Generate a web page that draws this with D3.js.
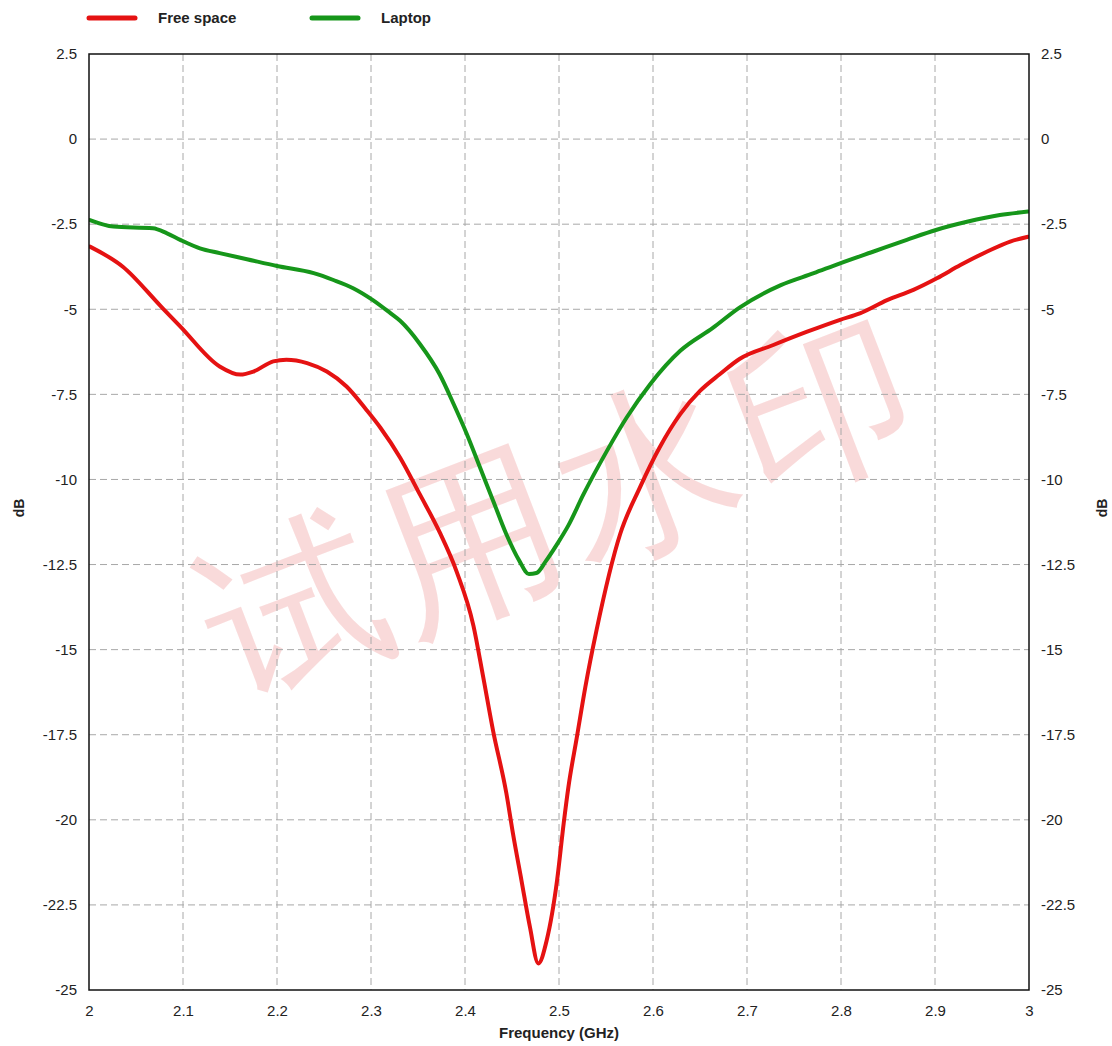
<!DOCTYPE html>
<html><head><meta charset="utf-8">
<script src="https://cdn.jsdelivr.net/npm/d3@7"></script>
<style>body{margin:0;background:#fff}svg{display:block}text{font-family:"Liberation Sans",Arial,sans-serif}</style>
</head><body><svg id="c" width="1112" height="1046"></svg>
<script>
const seriesNames = ["Free space", "Laptop"];
const seriesColors = ["#e51212", "#16961a"];
const freeFreq = [2.001,2.036,2.076,2.097,2.139,2.161,2.175,2.196,2.210,2.232,2.253,2.274,2.295,2.310,2.331,2.352,2.373,2.391,2.409,2.419,2.430,2.444,2.451,2.460,2.469,2.478,2.487,2.498,2.505,2.510,2.519,2.528,2.540,2.565,2.586,2.607,2.629,2.650,2.671,2.692,2.728,2.764,2.799,2.820,2.849,2.877,2.902,2.927,2.955,2.980,2.999];
const freeDb =   [-3.16,-3.75,-4.9,-5.5,-6.68,-6.92,-6.83,-6.53,-6.48,-6.58,-6.83,-7.27,-7.95,-8.48,-9.36,-10.44,-11.55,-12.7,-14.3,-15.75,-17.4,-19.22,-20.4,-21.77,-23.14,-24.22,-23.53,-21.77,-20.1,-19.04,-17.57,-16.1,-14.42,-11.61,-10.24,-9.06,-8.08,-7.4,-6.91,-6.46,-6.05,-5.66,-5.31,-5.12,-4.73,-4.43,-4.09,-3.7,-3.31,-3.01,-2.87];
const laptopFreq = [2.001,2.026,2.068,2.083,2.097,2.118,2.139,2.168,2.200,2.239,2.260,2.281,2.302,2.320,2.331,2.352,2.373,2.388,2.402,2.416,2.430,2.444,2.458,2.468,2.476,2.486,2.498,2.510,2.526,2.551,2.572,2.597,2.629,2.664,2.692,2.736,2.771,2.799,2.834,2.870,2.901,2.934,2.969,2.999];
const laptopDb =   [-2.38,-2.57,-2.62,-2.77,-2.96,-3.21,-3.35,-3.53,-3.73,-3.94,-4.14,-4.38,-4.73,-5.1,-5.34,-6.02,-6.91,-7.79,-8.67,-9.65,-10.63,-11.61,-12.4,-12.78,-12.75,-12.4,-11.9,-11.35,-10.44,-9.16,-8.18,-7.2,-6.22,-5.54,-4.95,-4.29,-3.94,-3.65,-3.31,-2.96,-2.67,-2.43,-2.23,-2.13];
const xTicks = [2,2.1,2.2,2.3,2.4,2.5,2.6,2.7,2.8,2.9,3];
const yTicks = [2.5,0,-2.5,-5,-7.5,-10,-12.5,-15,-17.5,-20,-22.5,-25];
const xTitle = "Frequency (GHz)";
const yTitle = "dB";
const watermark = "试用水印";

const svg = d3.select("#c");
const L = 89, R = 1029, T = 54, B = 990;
const x = d3.scaleLinear().domain([2,3]).range([L,R]);
const y = d3.scaleLinear().domain([-25,2.5]).range([B,T]);

// watermark
svg.append("text").attr("transform","translate(562,505) rotate(-21)")
  .attr("text-anchor","middle").attr("dominant-baseline","central")
  .attr("font-size",180).attr("font-family","Noto Sans CJK SC")
  .attr("fill","#f7cccc").attr("fill-opacity",0.72).attr("letter-spacing",8).text(watermark);

// grid
const g = svg.append("g");
g.selectAll(".vx").data(xTicks.slice(1,-1)).join("line")
  .attr("x1",d=>x(d)).attr("x2",d=>x(d)).attr("y1",T).attr("y2",B)
  .attr("stroke","#a8a8a8").attr("stroke-dasharray","7,4").attr("stroke-width",1);
g.selectAll(".hy").data(yTicks.slice(1,-1)).join("line")
  .attr("x1",L).attr("x2",R).attr("y1",d=>y(d)).attr("y2",d=>y(d))
  .attr("stroke","#a8a8a8").attr("stroke-dasharray","7,4").attr("stroke-width",1);

// axes labels via d3 axes
const fmt = d=>String(d);
const ax = svg.append("g").attr("transform",`translate(0,${B})`)
  .call(d3.axisBottom(x).tickValues(xTicks).tickFormat(fmt).tickSize(0).tickPadding(15));
const ayl = svg.append("g").attr("transform",`translate(${L},0)`)
  .call(d3.axisLeft(y).tickValues(yTicks).tickFormat(fmt).tickSize(0).tickPadding(12));
const ayr = svg.append("g").attr("transform",`translate(${R},0)`)
  .call(d3.axisRight(y).tickValues(yTicks).tickFormat(fmt).tickSize(0).tickPadding(12));
[ax,ayl,ayr].forEach(a=>{a.select(".domain").remove();a.selectAll("text").attr("font-size",15).attr("fill","#222").attr("font-family","Liberation Sans, Arial, sans-serif");});

// lines
const line = d3.line().x(d=>x(d[0])).y(d=>y(d[1])).curve(d3.curveMonotoneX);
const data = [d3.zip(freeFreq,freeDb), d3.zip(laptopFreq,laptopDb)];
svg.append("defs").append("clipPath").attr("id","cp").append("rect").attr("x",L).attr("y",T).attr("width",R-L).attr("height",B-T);
svg.append("g").attr("clip-path","url(#cp)").selectAll("path").data(data).join("path")
  .attr("d",line).attr("fill","none").attr("stroke",(d,i)=>seriesColors[i]).attr("stroke-width",4)
  .attr("stroke-linejoin","round").attr("stroke-linecap","round");

// frame
svg.append("rect").attr("x",L).attr("y",T).attr("width",R-L).attr("height",B-T)
  .attr("fill","none").attr("stroke","#111").attr("stroke-width",1.5);

// titles
svg.append("text").attr("x",(L+R)/2).attr("y",1038).attr("text-anchor","middle")
  .attr("font-size",15).attr("font-weight","bold").attr("fill","#222").text(xTitle);
svg.append("text").attr("transform","translate(24,508) rotate(-90)").attr("text-anchor","middle")
  .attr("font-size",14).attr("font-weight","bold").attr("fill","#222").text(yTitle);
svg.append("text").attr("transform","translate(1107,508) rotate(-90)").attr("text-anchor","middle")
  .attr("font-size",14).attr("font-weight","bold").attr("fill","#222").text(yTitle);

// legend
const legX = [89, 312];
const lg = svg.append("g").selectAll("g").data(seriesNames).join("g");
lg.append("line").attr("x1",(d,i)=>legX[i]).attr("x2",(d,i)=>legX[i]+46).attr("y1",18).attr("y2",18)
  .attr("stroke",(d,i)=>seriesColors[i]).attr("stroke-width",5).attr("stroke-linecap","round");
lg.append("text").attr("x",(d,i)=>legX[i]+69).attr("y",23).attr("font-size",15).attr("font-weight","bold")
  .attr("fill","#222").text(d=>d);
</script></body></html>
